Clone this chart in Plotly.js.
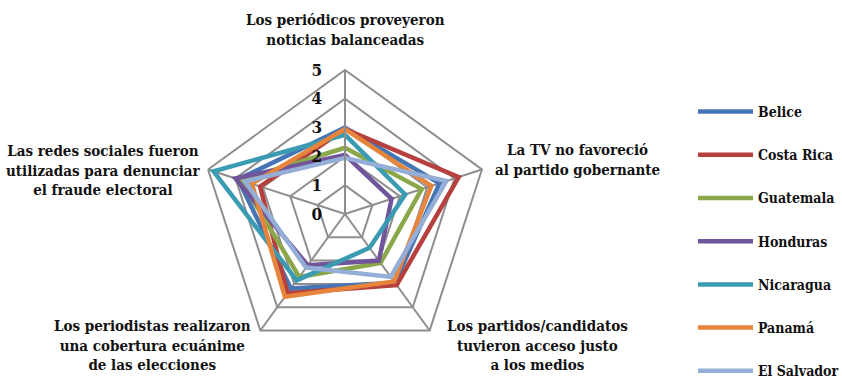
<!DOCTYPE html>
<html>
<head>
<meta charset="utf-8">
<script src="https://cdn.plot.ly/plotly-3.0.1.min.js"></script>
<style>
  html, body { margin: 0; padding: 0; background: #fff; }
  #chart { width: 842px; height: 378px; }
</style>
</head>
<body>
<div id="chart"></div>
<script>
const categories = [
    'Los periódicos proveyeron<br>noticias balanceadas',
    'La TV no favoreció<br>al partido gobernante',
    'Los partidos/candidatos<br>tuvieron acceso justo<br>a los medios',
    'Los periodistas realizaron<br>una cobertura ecuánime<br>de las elecciones',
    'Las redes sociales fueron<br>utilizadas para denunciar<br>el fraude electoral'
];
const countries = ['Belice', 'Costa Rica', 'Guatemala', 'Honduras', 'Nicaragua', 'Panamá', 'El Salvador'];
const belice = [3.0, 3.45, 2.95, 3.2, 3.9];
const costaRica = [2.95, 4.15, 3.05, 3.4, 3.1];
const guatemala = [2.3, 2.8, 2.1, 2.7, 3.8];
const honduras = [2.05, 1.7, 2.0, 2.2, 4.0];
const nicaragua = [2.75, 2.2, 1.45, 2.85, 4.8];
const panama = [2.95, 3.15, 2.9, 3.55, 3.4];
const elSalvador = [1.95, 3.7, 2.7, 2.3, 3.65];
const radialTicks = [0, 1, 2, 3, 4, 5];

const series = [belice, costaRica, guatemala, honduras, nicaragua, panama, elSalvador];
const colors = ['#4575b4', '#b5403d', '#8aa84a', '#71559a', '#3a9bb3', '#e5843a', '#95aed8'];

const font = 'DejaVu Serif Condensed, Liberation Serif, serif';
const gray = '#8e8e8e';

// close each polygon by repeating the first point
const keys = categories.map((c, i) => 'c' + i);
const traces = series.map((vals, i) => ({
    type: 'scatterpolar',
    mode: 'lines',
    r: vals.concat(vals[0]),
    theta: keys.concat(keys[0]),
    name: countries[i],
    legendgroup: 'g' + i,
    line: { color: colors[i], width: 4.5 }
}));

// category label positions in pixels (centre of each text block)
const labelPos = [[345, 30], [577, 160], [537, 345], [152, 345], [103, 170]];
const annotations = categories.map((c, i) => ({
    text: c,
    xref: 'paper', yref: 'paper',
    x: labelPos[i][0] / 842, y: 1 - labelPos[i][1] / 378,
    xanchor: 'center', yanchor: 'middle',
    showarrow: false,
    font: { family: font, size: 15, color: '#111', weight: 'bold' }
}));

const layout = {
    width: 842,
    height: 378,
    margin: { l: 0, r: 0, t: 0, b: 0, autoexpand: false },
    paper_bgcolor: '#fff',
    showlegend: true,
    legend: {
        x: 693 / 842, xanchor: 'left',
        y: 1 - 96 / 378, yanchor: 'top',
        tracegroupgap: 22,
        itemwidth: 55,
        font: { family: font, size: 14, color: '#111', weight: 'bold' },
        bgcolor: 'rgba(0,0,0,0)'
    },
    polar: {
        domain: { x: [201 / 842, 489 / 842], y: [1 - 358 / 378, 1 - 70 / 378] },
        bgcolor: '#fff',
        gridshape: 'linear',
        radialaxis: {
            range: [0, 5],
            tickvals: radialTicks,
            ticktext: radialTicks.map(String),
            angle: 90,
            side: 'counterclockwise',
            tickangle: 90,
            ticks: 'outside',
            ticklen: 16,
            tickcolor: 'rgba(0,0,0,0)',
            showline: true,
            linecolor: gray,
            linewidth: 2,
            gridcolor: gray,
            gridwidth: 2,
            tickfont: { family: font, size: 17, color: '#111', weight: 'bold' }
        },
        angularaxis: {
            type: 'category',
            categoryarray: keys,
            direction: 'clockwise',
            rotation: 90,
            showticklabels: false,
            ticks: '',
            showline: true,
            linecolor: gray,
            linewidth: 2,
            gridcolor: gray,
            gridwidth: 2
        }
    },
    annotations: annotations
};

Plotly.newPlot('chart', traces, layout, { displayModeBar: false, staticPlot: true });
</script>
</body>
</html>
